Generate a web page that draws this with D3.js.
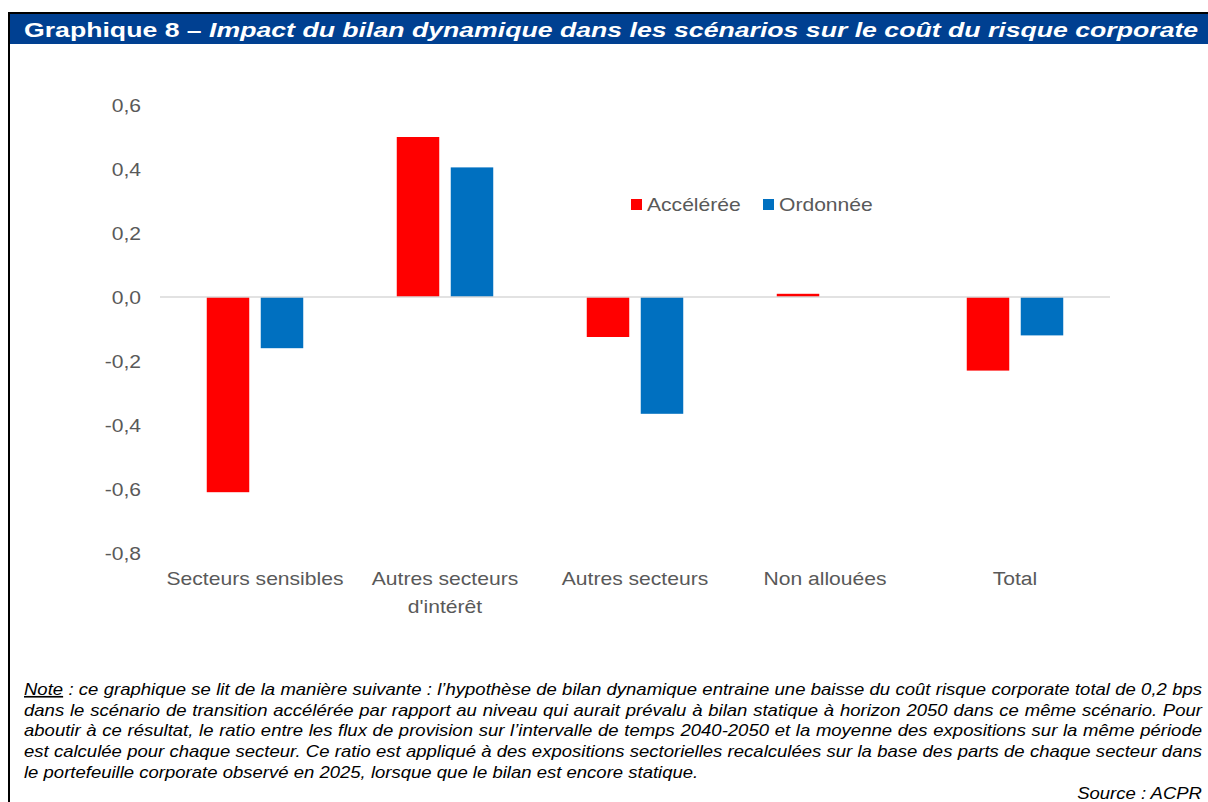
<!DOCTYPE html>
<html><head><meta charset="utf-8">
<script src="https://cdn.jsdelivr.net/npm/d3@7"></script>
<style>html,body{margin:0;padding:0;background:#fff;} svg{display:block;}</style>
</head><body>
<script>
const categories = ["Secteurs sensibles", "Autres secteurs d'intérêt", "Autres secteurs", "Non allouées", "Total"];
const seriesNames = ["Accélérée", "Ordonnée"];
const acceleree = [-0.61, 0.50, -0.125, 0.01, -0.23];
const ordonnee = [-0.16, 0.405, -0.365, 0.0, -0.12];
const yTicks = [-0.8, -0.6, -0.4, -0.2, 0.0, 0.2, 0.4, 0.6];
const colors = ["#FF0000", "#0070C0"];
const titleBold = "Graphique 8 – ";
const titleItalic = "Impact du bilan dynamique dans les scénarios sur le coût du risque corporate";
const noteLabel = "Note";
const noteLines = [
  " : ce graphique se lit de la manière suivante : l’hypothèse de bilan dynamique entraine une baisse du coût risque corporate total de 0,2 bps",
  "dans le scénario de transition accélérée par rapport au niveau qui aurait prévalu à bilan statique à horizon 2050 dans ce même scénario. Pour",
  "aboutir à ce résultat, le ratio entre les flux de provision sur l’intervalle de temps 2040-2050 et la moyenne des expositions sur la même période",
  "est calculée pour chaque secteur. Ce ratio est appliqué à des expositions sectorielles recalculées sur la base des parts de chaque secteur dans",
  "le portefeuille corporate observé en 2025, lorsque que le bilan est encore statique."
];
const sourceText = "Source : ACPR";

const W = 1208, H = 802, SX = 1.13;
const FONT = "'Liberation Sans', Arial, Helvetica, sans-serif";
const svg = d3.select("body").append("svg").attr("width", W).attr("height", H)
  .style("font-family", FONT);

function txt(parent, x, y, s, size, opts = {}) {
  const sx = opts.sx || SX;
  const t = parent.append("text")
    .attr("transform", `translate(${x},${y}) scale(${sx},1)`)
    .attr("font-size", size)
    .attr("fill", opts.fill || "#595959")
    .attr("text-anchor", opts.anchor || "start");
  if (opts.italic) t.attr("font-style", "italic");
  if (opts.bold) t.attr("font-weight", "bold");
  if (s !== null) t.text(s);
  return t;
}

// frame
svg.append("rect").attr("x", 8).attr("y", 12).attr("width", 2).attr("height", H - 12).attr("fill", "#000");
svg.append("rect").attr("x", 8).attr("y", 12).attr("width", W - 8).attr("height", 2).attr("fill", "#000");
// title bar
svg.append("rect").attr("x", 10).attr("y", 14).attr("width", W - 10).attr("height", 30).attr("fill", "#004091");
const tt = txt(svg, 24, 37, null, 20.5, {fill: "#fff", bold: true, sx: 1});
tt.append("tspan").text(titleBold);
tt.append("tspan").attr("font-style", "italic").text(titleItalic);
{
  const w = tt.node().getComputedTextLength();
  tt.attr("transform", `translate(24,37) scale(${1175 / w},1)`);
}

// scales
const x0 = d3.scaleBand().domain(categories).range([160, 1110]).padding(0);
const x1 = d3.scaleBand().domain(seriesNames).range([0, x0.bandwidth()]).paddingInner(0.213).paddingOuter(0.866);
const y = d3.scaleLinear().domain([-0.8, 0.6]).range([553, 105]);
const fmt = v => d3.format(".1f")(v).replace(".", ",").replace("−", "-");

// y tick labels
yTicks.forEach(v => txt(svg, 141, y(v) + 6.7, fmt(v), 18.67, {anchor: "end"}));

// bars
const data = categories.map((c, i) => ({c, vals: [acceleree[i], ordonnee[i]]}));
const g = svg.append("g");
data.forEach(d => {
  d.vals.forEach((v, j) => {
    if (v === 0) return;
    g.append("rect")
      .attr("x", x0(d.c) + x1(seriesNames[j]))
      .attr("width", x1.bandwidth())
      .attr("y", y(Math.max(0, v)))
      .attr("height", Math.abs(y(v) - y(0)))
      .attr("fill", colors[j]);
  });
});
// zero line
svg.append("line").attr("x1", 160).attr("x2", 1110).attr("y1", y(0)).attr("y2", y(0))
  .attr("stroke", "#D9D9D9").attr("stroke-width", 1.5);

// category labels (wrap if too wide)
categories.forEach(c => {
  const cx = x0(c) + x0.bandwidth() / 2;
  const t = txt(svg, cx, 584.5, c, 18.67, {anchor: "middle"});
  const w = t.node().getComputedTextLength() * SX;
  if (w > x0.bandwidth()) {
    const words = c.split(" ");
    let line1 = [], line2 = [];
    let i = 0;
    t.text("");
    for (; i < words.length; i++) {
      t.text(line1.concat(words[i]).join(" "));
      if (t.node().getComputedTextLength() * SX > x0.bandwidth() && line1.length) break;
      line1.push(words[i]);
    }
    line2 = words.slice(i);
    t.text(line1.join(" "));
    txt(svg, cx, 584.5 + 28, line2.join(" "), 18.67, {anchor: "middle"});
  }
});

// legend
const legX = [631, 763];
seriesNames.forEach((s, j) => {
  svg.append("rect").attr("x", legX[j]).attr("y", 199).attr("width", 11).attr("height", 11).attr("fill", colors[j]);
  txt(svg, legX[j] + 16, 211, s, 18.67);
});

// note
const noteLeft = 24, noteRight = 1202, noteBase = 695, noteLH = 20.7, noteSize = 16.4;
noteLines.forEach((line, i) => {
  const t = txt(svg, noteLeft, noteBase + i * noteLH, null, noteSize, {fill: "#000", italic: true});
  if (i === 0) {
    t.append("tspan").attr("text-decoration", "underline").text(noteLabel);
  }
  t.append("tspan").text(line);
  if (i < noteLines.length - 1) {
    const natural = t.node().getComputedTextLength();
    const full = (i === 0 ? noteLabel : "") + line;
    const spaces = (full.match(/ /g) || []).length;
    const target = (noteRight - noteLeft) / SX;
    t.attr("word-spacing", (target - natural) / spaces);
  }
});
txt(svg, 1202, 799, sourceText, noteSize, {fill: "#000", italic: true, anchor: "end"});
</script>
</body></html>
